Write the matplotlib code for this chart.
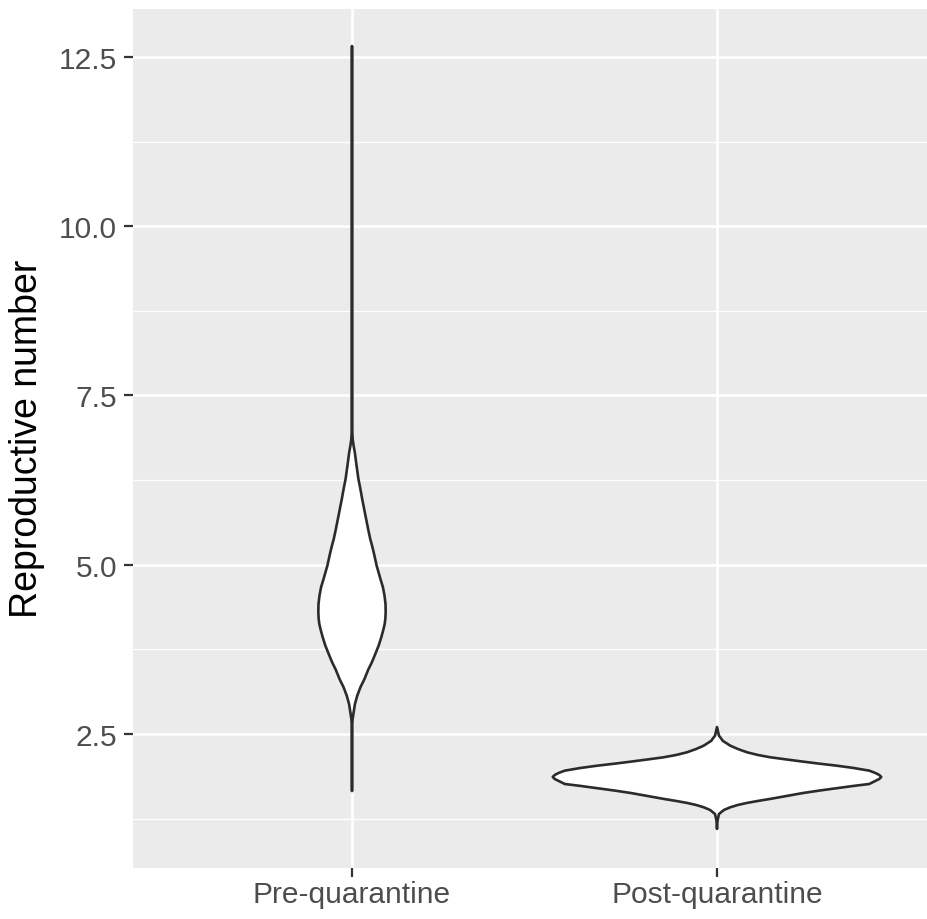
import matplotlib
matplotlib.use("Agg")
import matplotlib.pyplot as plt
import numpy as np

plt.rcParams['font.family'] = ['Liberation Sans', 'DejaVu Sans']

# ---- data ----
categories = ["Pre-quarantine", "Post-quarantine"]

# violin outlines: y level and relative density (1 = widest point overall)
pre_y = [1.658, 2.603, 2.722, 2.821, 2.943, 3.066, 3.194, 3.312, 3.445, 3.559,
         3.682, 3.804, 3.933, 4.051, 4.125, 4.199, 4.302, 4.420, 4.543, 4.671,
         4.790, 4.893, 4.986, 5.085, 5.184, 5.292, 5.380, 5.528, 5.676, 5.823,
         5.971, 6.119, 6.267, 6.459, 6.661, 6.769, 6.858, 7.005, 12.662]
pre_density = [0.0, 0.0, 0.004, 0.010, 0.018, 0.032, 0.052, 0.076, 0.098, 0.121,
               0.142, 0.162, 0.179, 0.192, 0.199, 0.203, 0.205, 0.204, 0.198, 0.188,
               0.173, 0.161, 0.150, 0.141, 0.132, 0.121, 0.111, 0.098, 0.086, 0.074,
               0.062, 0.051, 0.039, 0.028, 0.017, 0.009, 0.004, 0.001, 0.0]

post_y = [1.097, 1.215, 1.318, 1.377, 1.417, 1.451, 1.481, 1.510, 1.540, 1.584,
          1.628, 1.664, 1.698, 1.732, 1.761, 1.806, 1.835, 1.865, 1.894, 1.924,
          1.958, 1.998, 2.032, 2.061, 2.091, 2.123, 2.156, 2.190, 2.230, 2.278,
          2.327, 2.397, 2.475, 2.603]
post_density = [0.0, 0.003, 0.012, 0.042, 0.081, 0.127, 0.182, 0.248, 0.323, 0.424,
                0.525, 0.624, 0.727, 0.830, 0.927, 0.964, 0.988, 1.0, 0.988, 0.964,
                0.927, 0.830, 0.727, 0.624, 0.525, 0.424, 0.323, 0.248, 0.182, 0.127,
                0.081, 0.036, 0.012, 0.0]

y_ticks = [2.5, 5.0, 7.5, 10.0, 12.5]
y_tick_labels = ["2.5", "5.0", "7.5", "10.0", "12.5"]
y_minor = [1.25, 3.75, 6.25, 8.75, 11.25]
y_label = "Reproductive number"

# ---- figure ----
W, H = 927, 920
fig = plt.figure(figsize=(W / 100, H / 100), dpi=100)
left, right, top, bottom = 133, 927, 9.5, 869
ax = fig.add_axes([left / W, 1 - bottom / H, (right - left) / W, (bottom - top) / H])
ax.set_facecolor("#EBEBEB")
for s in ax.spines.values():
    s.set_visible(False)

half_width = 0.45
violins = [(pre_y, pre_density), (post_y, post_density)]
for i, (yy, dd) in enumerate(violins):
    pos = i + 1
    yy = np.asarray(yy)
    dd = np.asarray(dd) * half_width
    xs = np.concatenate([pos - dd, (pos + dd)[::-1]])
    ys = np.concatenate([yy, yy[::-1]])
    ax.fill(xs, ys, facecolor="white", edgecolor="#2B2B2B", linewidth=1.9,
            joinstyle="round", zorder=3)

ax.set_xlim(0.4, 0.4 + (right - left) / 365.0)
ax.set_ylim(0.52, 13.216)
ax.set_xticks([1, 2])
ax.set_xticklabels(categories)
ax.set_yticks(y_ticks)
ax.set_yticklabels(y_tick_labels)
ax.set_yticks(y_minor, minor=True)

ax.grid(which="major", color="white", linewidth=1.9, zorder=0)
ax.grid(which="minor", axis="y", color="white", linewidth=0.95, zorder=0)
ax.set_axisbelow(True)

ax.tick_params(axis="both", which="major", length=6.5, width=1.6, color="#333333",
               labelsize=21.5, labelcolor="#4D4D4D")
ax.tick_params(axis="y", which="major", pad=5)
ax.tick_params(axis="x", which="major", pad=2.5)
ax.tick_params(which="minor", length=0)

fig.text(27 / W, 1 - 438.5 / H, y_label, rotation=90, ha="center", va="center",
         fontsize=27, color="black")

fig.savefig("out.png", dpi=100)
